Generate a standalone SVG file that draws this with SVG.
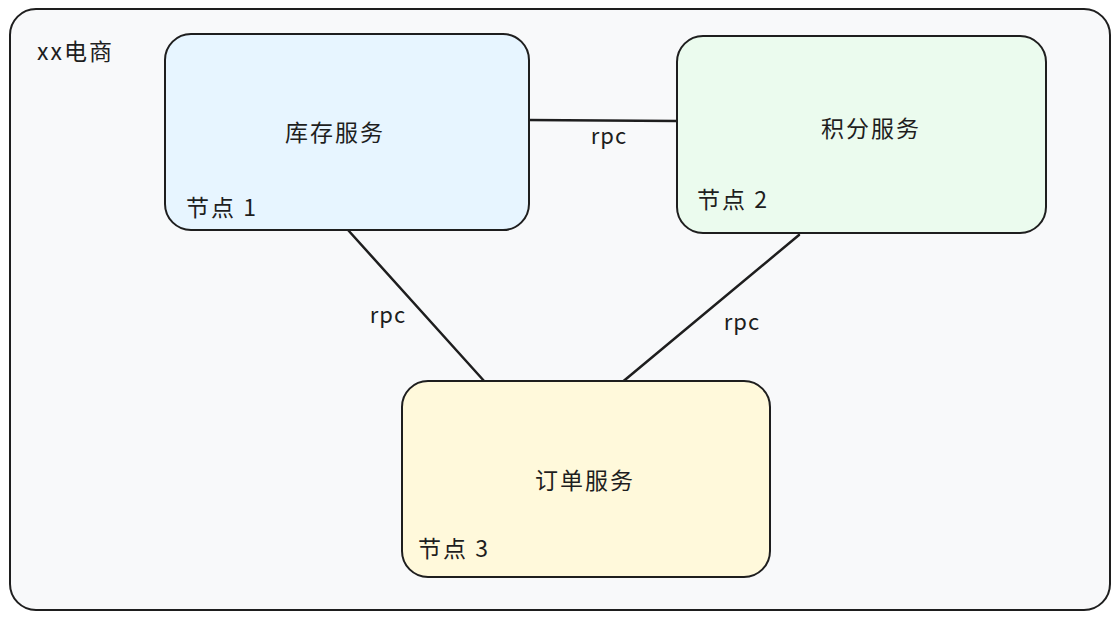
<svg xmlns="http://www.w3.org/2000/svg" width="1119" height="621" viewBox="0 0 1119 621">
<style>
.box{stroke:#1e1e1e;stroke-width:2;}
.t{font-family:"Noto Sans CJK SC","Noto Sans",sans-serif;font-size:23px;fill:#1e1e1e;letter-spacing:2px;}
.c{text-anchor:middle;}
.r{font-size:22px;letter-spacing:1px;}
.ln{stroke:#1e1e1e;stroke-width:2.5;fill:none;stroke-linecap:round;}
</style>
<rect width="1119" height="621" fill="#ffffff"/>
<g id="container">
<rect class="box" x="10" y="9" width="1100" height="601" rx="26" fill="#f8f9fa"/>
<text class="t" x="37" y="60">xx电商</text>
</g>
<g id="connectors">
<line class="ln" x1="528" y1="120" x2="677" y2="121"/>
<text class="t r c" x="609" y="144">rpc</text>
<line class="ln" x1="348" y1="230" x2="485" y2="382"/>
<text class="t r c" x="388" y="323">rpc</text>
<line class="ln" x1="799" y1="235" x2="620" y2="384"/>
<text class="t r c" x="742" y="330">rpc</text>
</g>
<g id="node1">
<rect class="box" x="165" y="34" width="364" height="196" rx="26" fill="#e7f5ff"/>
<text class="t c" x="335" y="141">库存服务</text>
<text class="t" x="186" y="216">节点 1</text>
</g>
<g id="node2">
<rect class="box" x="677" y="36" width="369" height="197" rx="26" fill="#ebfbee"/>
<text class="t c" x="871" y="137">积分服务</text>
<text class="t" x="697" y="208">节点 2</text>
</g>
<g id="node3">
<rect class="box" x="402" y="381" width="368" height="196" rx="26" fill="#fff9db"/>
<text class="t c" x="585" y="489">订单服务</text>
<text class="t" x="418" y="557">节点 3</text>
</g>
</svg>
